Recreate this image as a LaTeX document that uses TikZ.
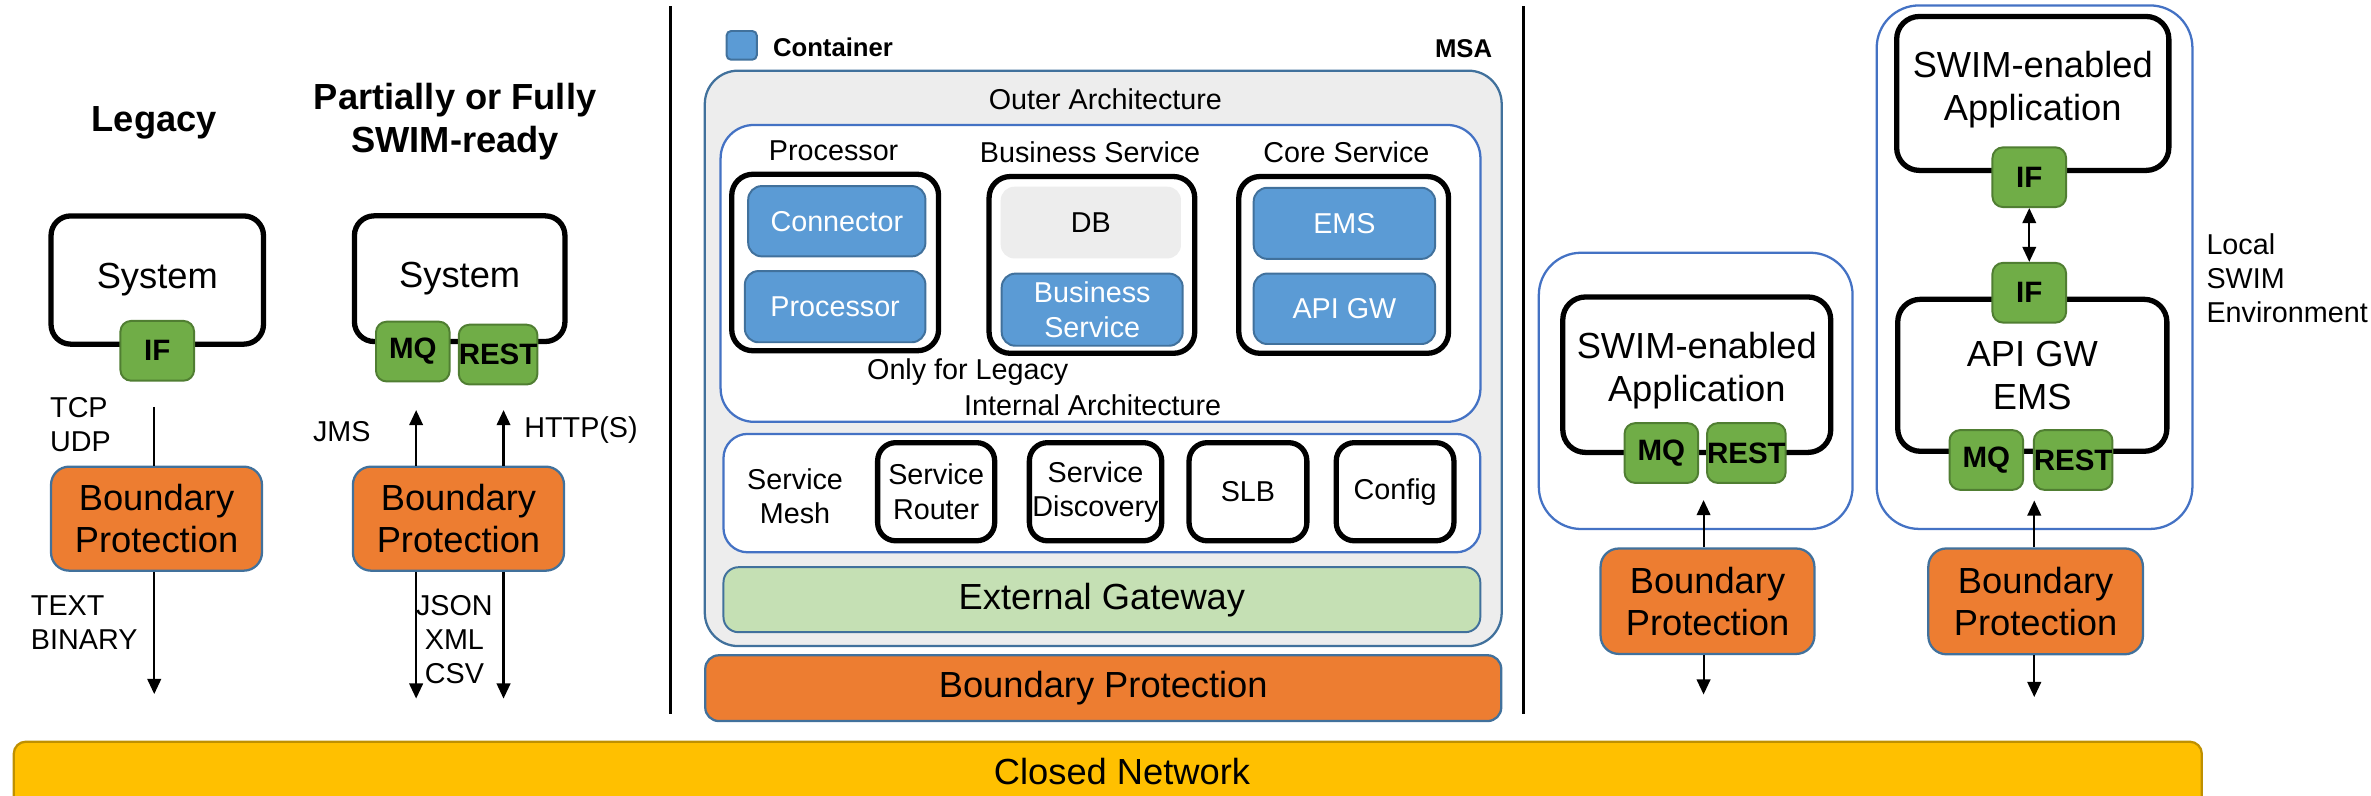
\documentclass[tikz,border=0pt]{standalone}
\usepackage{fontspec}
\setmainfont{Liberation Sans}
\usepackage{tikz}
\usetikzlibrary{arrows.meta}
\definecolor{bporange}{HTML}{ED7D31}
\definecolor{bpedge}{HTML}{41719C}
\definecolor{ifgreen}{HTML}{70AD47}
\definecolor{ifedge}{HTML}{507E32}
\definecolor{ctblue}{HTML}{5B9BD5}
\definecolor{ctedge}{HTML}{41719C}
\definecolor{panegray}{HTML}{EDEDED}
\definecolor{envblue}{HTML}{4472C4}
\definecolor{gwgreen}{HTML}{C5E0B4}
\definecolor{netyellow}{HTML}{FFC000}
\definecolor{netedge}{HTML}{BF9000}
\tikzstyle{sysbox}=[draw=black,fill=white,line width=3.5pt,rounded corners=13pt,
                    inner sep=0pt,align=center,font=\fontsize{24}{28.7}\selectfont]
\tikzstyle{grpbox}=[draw=black,line width=3.5pt,rounded corners=14pt,inner sep=0pt]
\tikzstyle{bpbox}=[draw=bpedge,fill=bporange,line width=1.5pt,rounded corners=12pt,
                   inner sep=0pt,align=center,font=\fontsize{24}{27.6}\selectfont]
\tikzstyle{ifbox}=[draw=ifedge,fill=ifgreen,line width=1.3pt,rounded corners=7pt,
                   inner sep=0pt,minimum width=48.7pt,minimum height=39.5pt,
                   font=\fontsize{19.5}{22}\selectfont\bfseries]
\tikzstyle{ctbox}=[draw=ctedge,fill=ctblue,text=white,line width=1.3pt,
                   rounded corners=9pt,inner sep=0pt,align=center,
                   font=\fontsize{19}{23}\selectfont]
\tikzstyle{envbox}=[draw=envblue,fill=white,line width=1.5pt,inner sep=0pt]
\tikzstyle{lbl}=[inner sep=0pt,align=left,font=\fontsize{19}{22.6}\selectfont]
\tikzstyle{ttl}=[inner sep=0pt,align=center,font=\fontsize{24}{28}\selectfont\bfseries]
\tikzstyle{flow}=[line width=1.4pt,-{Triangle[length=10pt,width=9pt]}]

\begin{document}
\begin{tikzpicture}[x=1pt,y=-1pt]
  \useasboundingbox (0,0) rectangle (1568,526);

  % legacy and swim-ready systems
  \node (tLeg) at (102,81) [ttl]{Legacy};
  \node (tSwim) at (301,80.5) [ttl]{Partially or Fully\\SWIM-ready};

  \node (sysL) at (104,185.2) [sysbox,minimum width=140.5pt,minimum height=84.8pt]{System};
  \node (ifL) at (104,232) [ifbox]{IF};
  \node (bpL) at (103.5,343) [bpbox,minimum width=139.5pt,minimum height=68.8pt]{Boundary\\Protection};
  \node (tcp) at (33,281) [lbl,anchor=west]{TCP\\UDP};
  \node (txt) at (20.3,411.7) [lbl,anchor=west]{TEXT\\BINARY};
  \coordinate (lTop) at (102,269);
  \coordinate (lEnd) at (102,459);
  \draw[line width=1.4pt] (lTop) -- (lTop |- bpL.north);
  \draw[flow] (lEnd |- bpL.south) -- (lEnd);

  \node (sysS) at (304,184.3) [sysbox,minimum width=139.2pt,minimum height=83.1pt]{System};
  \node (mqS) at (273,232.5) [ifbox]{MQ};
  \node (restS) at (329.4,234.5) [ifbox]{REST};
  \node (bpS) at (303.2,343) [bpbox,minimum width=139.6pt,minimum height=68.8pt]{Boundary\\Protection};
  \node (jms) at (226,285.5) [lbl]{JMS};
  \node (http) at (346.6,284.4) [lbl,anchor=west]{HTTP(S)};
  \node (fmt) at (300.5,422.8) [lbl,align=center]{JSON\\XML\\CSV};
  \coordinate (jmsTip) at (275.2,271.2);
  \coordinate (httpTip) at (333,271.2);
  \coordinate (jmsEnd) at (275.2,462);
  \coordinate (httpEnd) at (333,462);
  \draw[flow] (jmsTip |- bpS.north) -- (jmsTip);
  \draw[flow] (httpTip |- bpS.north) -- (httpTip);
  \draw[flow] (jmsEnd |- bpS.south) -- (jmsEnd);
  \draw[flow] (httpEnd |- bpS.south) -- (httpEnd);

  \coordinate (d1a) at (443.2,4);
  \coordinate (d1b) at (443.2,472);
  \coordinate (d2a) at (1007.5,4);
  \coordinate (d2b) at (1007.5,472);
  \draw[line width=2.2pt] (d1a) -- (d1b);
  \draw[line width=2.2pt] (d2a) -- (d2b);

  % MSA
  \node (key) at (490.5,30) [ctbox,minimum width=20pt,minimum height=19pt,rounded corners=3pt]{};
  \node (keyT) at (511,31) [inner sep=0pt,anchor=west,font=\fontsize{17}{20}\selectfont\bfseries]{Container};
  \node (msa) at (987,32) [inner sep=0pt,anchor=east,font=\fontsize{17}{20}\selectfont\bfseries]{MSA};

  \node (outer) at (729.6,237) [draw=ctedge,fill=panegray,line width=1.5pt,rounded corners=22pt,
                                minimum width=527pt,minimum height=380.5pt]{};
  \node (outerT) at (731,65.7) [lbl]{Outer Architecture};
  \node (inner) at (727.8,180.8) [envbox,rounded corners=22pt,minimum width=502.5pt,minimum height=196.3pt]{};
  \node (procT) at (551.3,99.6) [lbl]{Processor};
  \node (busT) at (720.9,101) [lbl]{Business Service};
  \node (coreT) at (890.4,101) [lbl]{Core Service};

  \node (procG) at (552.3,173.6) [grpbox,minimum width=136.8pt,minimum height=116.7pt]{};
  \node (conn) at (553.4,146.3) [ctbox,minimum width=117.2pt,minimum height=46.5pt]{Connector};
  \node (proc) at (552.3,202.8) [ctbox,minimum width=119.4pt,minimum height=47.1pt]{Processor};
  \node (busG) at (722.1,175.2) [grpbox,minimum width=136pt,minimum height=116.9pt]{};
  \node (db) at (721.4,147.2) [ctbox,draw=none,fill=panegray,text=black,minimum width=119.2pt,minimum height=47.4pt]{DB};
  \node (bsvc) at (722.3,204.8) [ctbox,minimum width=119.7pt,minimum height=47.7pt]{Business\\Service};
  \node (coreG) at (888.6,175.2) [grpbox,minimum width=138.7pt,minimum height=116.9pt]{};
  \node (ems) at (889.1,147.7) [ctbox,minimum width=120pt,minimum height=47pt]{EMS};
  \node (gw) at (889.1,204.2) [ctbox,minimum width=120pt,minimum height=46.6pt]{API GW};
  \node (legT) at (640,245.8) [lbl]{Only for Legacy};
  \node (innerT) at (722.6,267.9) [lbl]{Internal Architecture};

  \node (mesh) at (728.7,326.1) [envbox,rounded corners=16pt,minimum width=500.5pt,minimum height=78.3pt]{};
  \node (meshT) at (525.8,328) [lbl,align=center]{Service\\Mesh};
  \node (router) at (619.1,325.2) [grpbox,lbl,align=center,rounded corners=12pt,minimum width=77.4pt,minimum height=64.9pt]{Service\\Router};
  \node (disc) at (724.5,325.2) [grpbox,lbl,align=center,rounded corners=12pt,minimum width=87.5pt,minimum height=64.9pt]{Service\\Discovery};
  \node (slb) at (825.3,325.2) [grpbox,lbl,rounded corners=12pt,minimum width=77.9pt,minimum height=64.9pt]{SLB};
  \node (cfg) at (922.6,325.2) [grpbox,lbl,rounded corners=12pt,minimum width=77.8pt,minimum height=64.9pt]{Config};

  \node (extgw) at (728.7,396.6) [draw=ctedge,fill=gwgreen,line width=1.3pt,rounded corners=10pt,
                                 minimum width=500.5pt,minimum height=43pt,
                                 font=\fontsize{24}{28}\selectfont]{External Gateway};
  \node (bpM) at (729.6,455.1) [bpbox,rounded corners=9pt,minimum width=526.4pt,minimum height=43.5pt]{Boundary Protection};

  % swim-enabled applications
  \node (envA) at (1121.4,258.5) [envbox,rounded corners=28pt,minimum width=207.5pt,minimum height=182.7pt]{};
  \node (appA) at (1122.1,247.8) [sysbox,rounded corners=15pt,minimum width=177.2pt,minimum height=102.8pt,
                                  text depth=10pt]{SWIM-enabled\\Application};
  \node (mqA) at (1098.7,299.6) [ifbox]{MQ};
  \node (restA) at (1154.9,299.6) [ifbox]{REST};
  \node (bpA) at (1129.2,397.6) [bpbox,minimum width=141.4pt,minimum height=69.7pt]{Boundary\\Protection};
  \coordinate (aTip) at (1126.6,330.7);
  \coordinate (aEnd) at (1126.6,459.3);
  \draw[flow] (aTip |- bpA.north) -- (aTip);
  \draw[flow] (aEnd |- bpA.south) -- (aEnd);

  \node (envB) at (1345.5,176.7) [envbox,rounded corners=28pt,minimum width=208.8pt,minimum height=346.2pt]{};
  \node (appB) at (1344.3,61.8) [sysbox,rounded corners=15pt,minimum width=180pt,minimum height=101.8pt,
                                 text depth=10pt]{SWIM-enabled\\Application};
  \node (ifB1) at (1342,117.2) [ifbox]{IF};
  \node (apiB) at (1344,248.2) [sysbox,rounded corners=15pt,minimum width=178pt,minimum height=100.5pt]{API GW\\EMS};
  \node (ifB2) at (1342,193.6) [ifbox]{IF};
  \node (mqB) at (1313.6,304.2) [ifbox]{MQ};
  \node (restB) at (1371,304.2) [ifbox]{REST};
  \node (bpB) at (1346.2,397.7) [bpbox,minimum width=141.9pt,minimum height=70pt]{Boundary\\Protection};
  \draw[line width=1.4pt,{Triangle[length=10pt,width=9pt]}-{Triangle[length=10pt,width=9pt]}] (ifB1.south) -- (ifB2.north);
  \coordinate (bTip) at (1345.3,331);
  \coordinate (bEnd) at (1345.3,461);
  \draw[flow] (bTip |- bpB.north) -- (bTip);
  \draw[flow] (bEnd |- bpB.south) -- (bEnd);
  \node (local) at (1459,184) [lbl,anchor=west]{Local\\SWIM\\Environment};

  % closed network
  \begin{scope}
    \clip (0,0) rectangle (1568,526);
    \node (net) at (732.6,525.5) [draw=netedge,fill=netyellow,line width=1.5pt,rounded corners=8pt,
                                  minimum width=1447pt,minimum height=70pt]{};
  \end{scope}
  \node (netT) at (742,510) [inner sep=0pt,font=\fontsize{24}{28}\selectfont]{Closed Network};
\end{tikzpicture}
\end{document}
